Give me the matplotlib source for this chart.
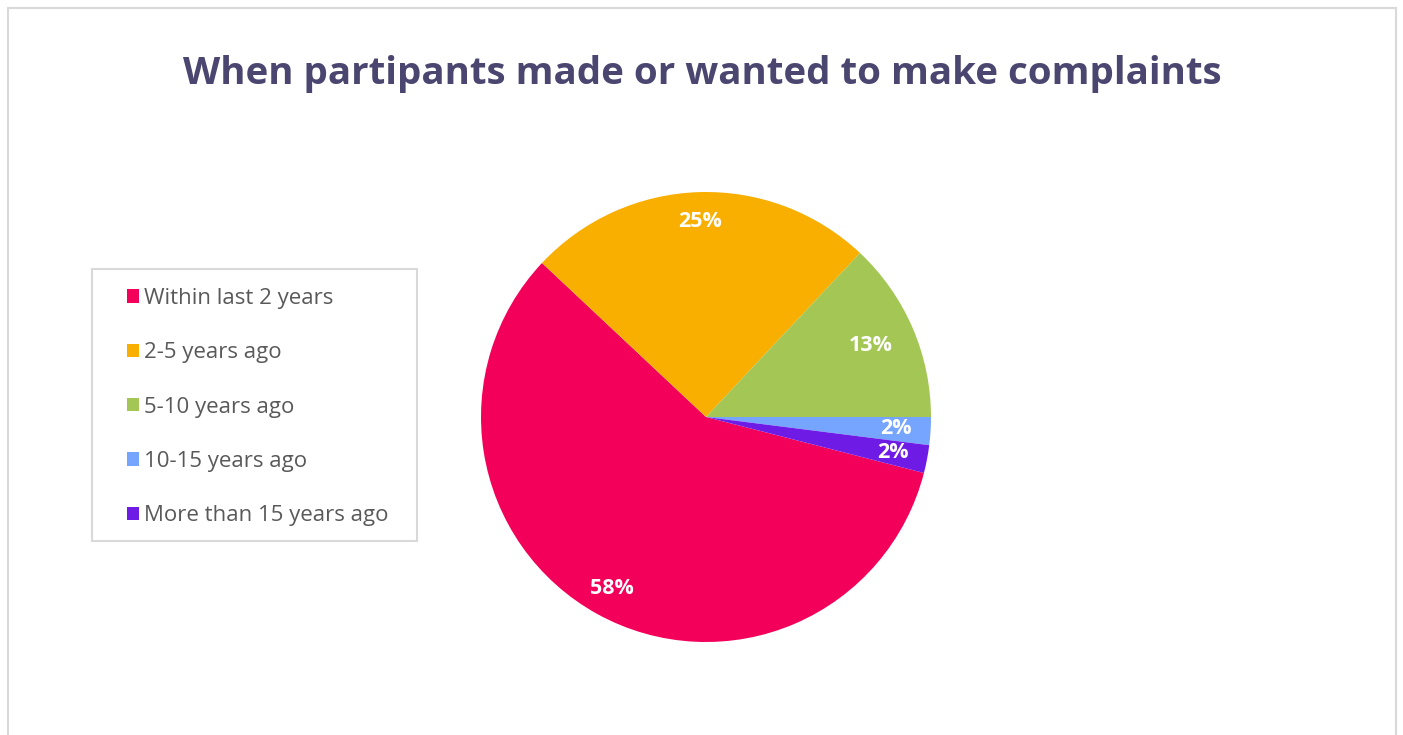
import matplotlib.pyplot as plt
from matplotlib.patches import Patch, Rectangle
import numpy as np

# share of participants by time since complaint
categories = ['Within last 2 years', '2-5 years ago', '5-10 years ago',
              '10-15 years ago', 'More than 15 years ago']
shares = [58, 25, 13, 2, 2]
colors = ['#F2005A', '#F9AF00', '#A3C654', '#76A5FF', '#6E1BE6']
label_radius = [0.87, 0.87, 0.80, 0.845, 0.845]

W, H = 1403, 735
fig = plt.figure(figsize=(W / 100, H / 100), dpi=100)
fig.patch.set_facecolor('white')

# outer light grey frame (bottom runs off the image)
fig.patches.append(Rectangle((8 / W, -0.05), (1396 - 8) / W, 1.05 - 8 / H,
                             transform=fig.transFigure, fill=False,
                             edgecolor='#D9D9D9', linewidth=1.5))

fig.text(702 / W, 1 - 74 / H, 'When partipants made or wanted to make complaints',
         ha='center', va='center', fontsize=27.7, fontweight='bold',
         color='#4A4670', family='Open Sans')

cx, cy, r = 706, 417, 225
ax = fig.add_axes([(cx - r) / W, (H - cy - r) / H, 2 * r / W, 2 * r / H])
wedges, _ = ax.pie(shares, colors=colors, startangle=-14.4, counterclock=False,
                   radius=1.0)
ax.set_xlim(-1, 1)
ax.set_ylim(-1, 1)
ax.set_aspect('equal')
ax.axis('off')

for w, val, rr in zip(wedges, shares, label_radius):
    mid = np.deg2rad((w.theta1 + w.theta2) / 2)
    ax.text(rr * np.cos(mid), rr * np.sin(mid), f'{val}%', ha='center', va='center',
            color='white', fontsize=15.5, fontweight='bold', family='Open Sans')

# legend box is drawn separately, wider than its entries
fig.patches.append(Rectangle((92 / W, 1 - 541 / H), (417 - 92) / W, (541 - 269) / H,
                             transform=fig.transFigure, fill=False,
                             edgecolor='#D9D9D9', linewidth=1.5))
handles = [Patch(facecolor=c, edgecolor='none') for c in colors]
leg = fig.legend(handles, categories, loc='upper left',
                 bbox_to_anchor=(127 / W, 1 - 288 / H),
                 prop={'family': 'Open Sans', 'size': 16}, labelcolor='#595959',
                 frameon=False, handlelength=0.55, handleheight=0.55,
                 handletextpad=0.2, labelspacing=1.5, borderpad=0,
                 borderaxespad=0)

fig.savefig('out.png', dpi=100)
